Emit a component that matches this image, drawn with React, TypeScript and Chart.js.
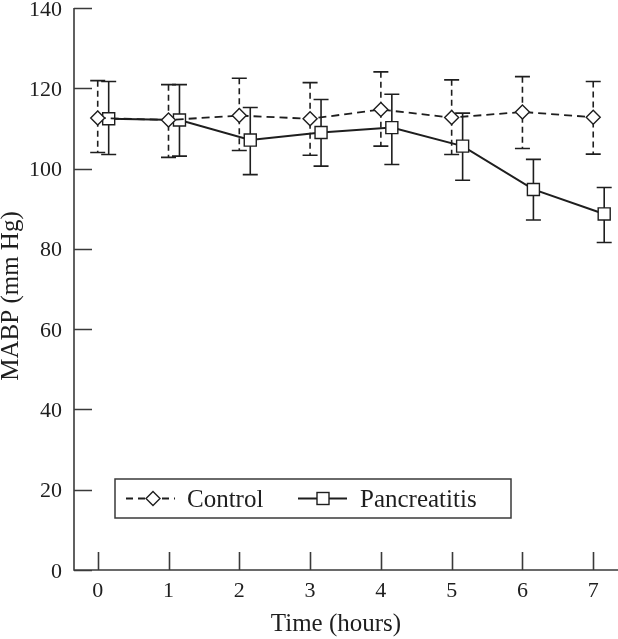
import React, { useEffect, useRef } from 'react';
import { Chart, registerables } from 'chart.js';

Chart.register(...registerables);

const hours = [0, 1, 2, 3, 4, 5, 6, 7];
const controlMean = [112.6, 112.1, 113.2, 112.4, 114.7, 112.7, 114.1, 112.8];
const controlUpper = [121.9, 120.9, 122.5, 121.4, 124.1, 122.1, 122.9, 121.7];
const controlLower = [104.0, 102.8, 104.5, 103.3, 105.6, 103.5, 105.0, 103.6];
const pancMean = [112.4, 112.1, 107.1, 109.0, 110.2, 105.6, 94.8, 88.7];
const pancUpper = [121.7, 120.9, 115.2, 117.2, 118.5, 113.8, 102.3, 95.3];
const pancLower = [103.5, 103.1, 98.5, 100.6, 101.0, 97.1, 87.2, 81.6];
const pancOffset = 0.155;
const yTicks = [0, 20, 40, 60, 80, 100, 120, 140];
const xTickLabels = ['0', '1', '2', '3', '4', '5', '6', '7'];
const yTickLabels = ['0', '20', '40', '60', '80', '100', '120', '140'];
const seriesLabels = ['Control', 'Pancreatitis'];
const xTitle = 'Time (hours)';
const yTitle = 'MABP (mm Hg)';

const INK = '#1e1e1e';
const AXIS = '#3a3a3a';
const FONT = '"Liberation Serif", "Times New Roman", serif';

const errorBars = [
  { lower: controlLower, upper: controlUpper, dash: [6, 4] },
  { lower: pancLower, upper: pancUpper, dash: [] as number[] },
];

const decorPlugin = {
  id: 'decor',
  beforeDatasetsDraw(chart: any) {
    const ctx = chart.ctx;
    const xs = chart.scales.x;
    const ys = chart.scales.y;
    ctx.save();
    chart.data.datasets.forEach((ds: any, di: number) => {
      const eb = errorBars[di];
      ds.data.forEach((pt: any, i: number) => {
        const px = xs.getPixelForValue(pt.x);
        const top = ys.getPixelForValue(eb.upper[i]);
        const bot = ys.getPixelForValue(eb.lower[i]);
        ctx.strokeStyle = INK;
        ctx.lineWidth = 1.6;
        ctx.setLineDash(eb.dash);
        ctx.beginPath();
        ctx.moveTo(px, top);
        ctx.lineTo(px, bot);
        ctx.stroke();
        ctx.setLineDash([]);
        ctx.beginPath();
        ctx.moveTo(px - 7.5, top);
        ctx.lineTo(px + 7.5, top);
        ctx.moveTo(px - 7.5, bot);
        ctx.lineTo(px + 7.5, bot);
        ctx.stroke();
      });
    });
    ctx.restore();
  },
  afterDraw(chart: any) {
    const ctx = chart.ctx;
    const xs = chart.scales.x;
    const ys = chart.scales.y;
    const ca = chart.chartArea;
    ctx.save();
    // axes and inward ticks
    ctx.strokeStyle = AXIS;
    ctx.lineWidth = 1.6;
    ctx.beginPath();
    ctx.moveTo(ca.left, ca.top);
    ctx.lineTo(ca.left, ca.bottom);
    ctx.lineTo(ca.right, ca.bottom);
    yTicks.forEach((v) => {
      const py = Math.round(ys.getPixelForValue(v)) + 0.5;
      ctx.moveTo(ca.left, py);
      ctx.lineTo(ca.left + 18, py);
    });
    hours.forEach((h) => {
      const px = Math.round(xs.getPixelForValue(h)) + 0.5;
      ctx.moveTo(px, ca.bottom);
      ctx.lineTo(px, ca.bottom - 18);
    });
    ctx.stroke();

    // tick labels
    ctx.fillStyle = INK;
    ctx.font = `22px ${FONT}`;
    ctx.textAlign = 'right';
    ctx.textBaseline = 'alphabetic';
    yTicks.forEach((v, i) => {
      ctx.fillText(yTickLabels[i], ca.left - 12, ys.getPixelForValue(v) + 7.5);
    });
    ctx.textAlign = 'center';
    hours.forEach((h, i) => {
      ctx.fillText(xTickLabels[i], xs.getPixelForValue(h), ca.bottom + 27);
    });

    // titles
    ctx.font = `25px ${FONT}`;
    ctx.textAlign = 'center';
    ctx.textBaseline = 'alphabetic';
    ctx.fillText(xTitle, ca.left + 262, ca.bottom + 61);
    ctx.save();
    ctx.translate(17.5, 296);
    ctx.rotate(-Math.PI / 2);
    ctx.fillText(yTitle, 0, 0);
    ctx.restore();

    // legend
    const bx = ca.left + 41;
    const by = ca.bottom - 91;
    const bw = 396;
    const bh = 39;
    const my = by + 19.5;
    ctx.lineWidth = 1.5;
    ctx.strokeStyle = AXIS;
    ctx.strokeRect(bx, by, bw, bh);

    ctx.strokeStyle = INK;
    ctx.lineWidth = 1.8;
    ctx.setLineDash([7, 5]);
    ctx.beginPath();
    ctx.moveTo(bx + 11, my);
    ctx.lineTo(bx + 60, my);
    ctx.stroke();
    ctx.setLineDash([]);
    const cx = bx + 38;
    ctx.fillStyle = '#fff';
    ctx.lineWidth = 1.4;
    ctx.beginPath();
    ctx.moveTo(cx - 7, my);
    ctx.lineTo(cx, my - 7);
    ctx.lineTo(cx + 7, my);
    ctx.lineTo(cx, my + 7);
    ctx.closePath();
    ctx.fill();
    ctx.stroke();
    ctx.lineWidth = 1.8;
    ctx.beginPath();
    ctx.moveTo(bx + 183, my);
    ctx.lineTo(bx + 232, my);
    ctx.stroke();
    const sx = bx + 208;
    ctx.lineWidth = 1.4;
    ctx.fillRect(sx - 6, my - 6, 12, 12);
    ctx.strokeRect(sx - 6, my - 6, 12, 12);

    ctx.fillStyle = INK;
    ctx.font = `25px ${FONT}`;
    ctx.textAlign = 'left';
    ctx.textBaseline = 'alphabetic';
    ctx.fillText(seriesLabels[0], bx + 72, my + 8.5);
    ctx.fillText(seriesLabels[1], bx + 245, my + 8.5);
    ctx.restore();
  },
};

export default function App() {
  const ref = useRef<HTMLCanvasElement | null>(null);
  useEffect(() => {
    document.body.style.margin = '0';
    const canvas = ref.current;
    if (!canvas) return;
    const chart = new Chart(canvas, {
      type: 'line',
      data: {
        datasets: [
          {
            label: seriesLabels[0],
            data: hours.map((h, i) => ({ x: h, y: controlMean[i] })),
            borderColor: INK,
            borderWidth: 1.8,
            borderDash: [8, 5],
            pointStyle: 'rectRot',
            pointRadius: 7,
            pointBackgroundColor: '#fff',
            pointBorderColor: INK,
            pointBorderWidth: 1.4,
            tension: 0,
          },
          {
            label: seriesLabels[1],
            data: hours.map((h, i) => ({ x: h + pancOffset, y: pancMean[i] })),
            borderColor: INK,
            borderWidth: 2,
            pointStyle: 'rect',
            pointRadius: 8.5,
            pointBackgroundColor: '#fff',
            pointBorderColor: INK,
            pointBorderWidth: 1.4,
            tension: 0,
          },
        ],
      },
      options: {
        animation: false,
        responsive: false,
        devicePixelRatio: 1,
        layout: { autoPadding: false, padding: { top: 8, left: 0, right: 0, bottom: 0 } },
        plugins: { legend: { display: false }, tooltip: { enabled: false } },
        scales: {
          x: {
            type: 'linear',
            min: -0.335,
            max: 7.35,
            afterFit: (scale: any) => {
              scale.height = 69;
              scale.paddingLeft = 0;
              scale.paddingRight = 0;
            },
            grid: { display: false, drawTicks: false },
            border: { display: false },
            ticks: { display: false },
          },
          y: {
            min: 0,
            max: 140,
            afterFit: (scale: any) => {
              scale.width = 74;
              scale.paddingTop = 0;
              scale.paddingBottom = 0;
            },
            grid: { display: false, drawTicks: false },
            border: { display: false },
            ticks: { display: false },
          },
        },
      },
      plugins: [decorPlugin],
    });
    return () => chart.destroy();
  }, []);
  return (
    <div style={{ width: 618, height: 639 }}>
      <canvas ref={ref} width={618} height={639} style={{ display: 'block' }} />
    </div>
  );
}
